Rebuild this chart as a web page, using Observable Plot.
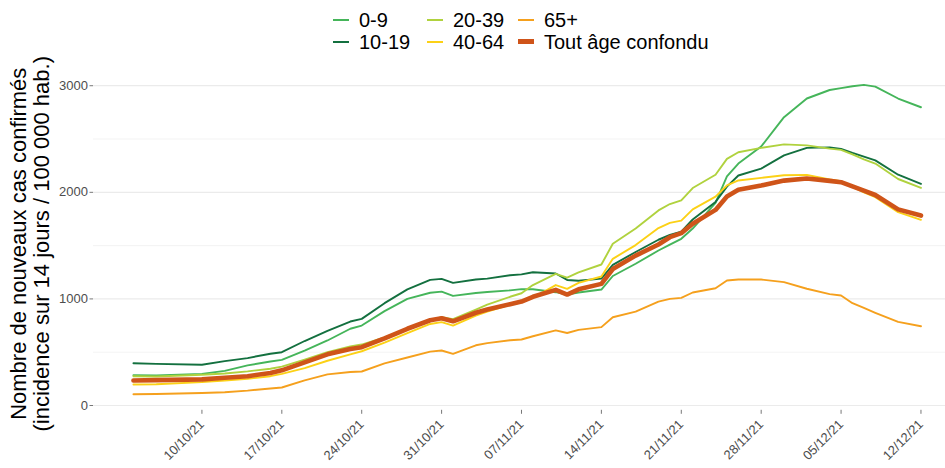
<!DOCTYPE html>
<html><head><meta charset="utf-8">
<script src="https://cdn.jsdelivr.net/npm/d3@7"></script>
<script src="https://cdn.jsdelivr.net/npm/@observablehq/plot@0.6"></script>
<style>
body{margin:0;background:#fff;font-family:"Liberation Sans",Arial,sans-serif;}
#wrap{position:relative;width:945px;height:468px;overflow:hidden;}
#wrap svg{position:absolute;left:0;top:0;}
.item{position:absolute;display:flex;align-items:center;height:20px;font-size:20px;color:#000;line-height:20px;white-space:nowrap;}
.sw{width:16px;margin-right:10px;}
</style>
</head><body><div id="wrap"></div>
<script>
const dates = ["2021-10-04","2021-10-06","2021-10-10","2021-10-12","2021-10-14","2021-10-16","2021-10-17","2021-10-19","2021-10-21","2021-10-23","2021-10-24","2021-10-26","2021-10-28","2021-10-30","2021-10-31","2021-11-01","2021-11-03","2021-11-04","2021-11-06","2021-11-07","2021-11-08","2021-11-10","2021-11-11","2021-11-12","2021-11-14","2021-11-15","2021-11-17","2021-11-19","2021-11-20","2021-11-21","2021-11-22","2021-11-24","2021-11-25","2021-11-26","2021-11-28","2021-11-30","2021-12-02","2021-12-04","2021-12-05","2021-12-06","2021-12-07","2021-12-08","2021-12-10","2021-12-12"];
const age0_9   = [285,281,297,325,376,413,428,515,610,720,750,885,1000,1058,1068,1028,1055,1065,1080,1092,1090,1063,1040,1060,1088,1215,1330,1454,1510,1564,1660,1900,2150,2270,2430,2705,2880,2960,2978,2995,3008,2992,2880,2798];
const age10_19 = [397,391,382,416,445,486,500,605,700,788,813,960,1089,1179,1188,1150,1182,1190,1222,1230,1250,1238,1178,1170,1190,1320,1440,1555,1600,1632,1745,1910,2054,2158,2222,2347,2417,2422,2408,2370,2335,2300,2165,2080];
const age20_39 = [275,272,288,300,320,345,365,430,500,555,572,640,720,800,829,810,900,947,1020,1053,1130,1235,1200,1248,1323,1517,1660,1830,1890,1925,2040,2165,2314,2376,2417,2450,2440,2410,2398,2355,2310,2270,2125,2042];
const age40_64 = [197,200,219,235,250,275,297,350,420,480,509,590,680,765,782,750,844,880,945,969,1010,1130,1094,1150,1210,1376,1505,1665,1713,1735,1840,1960,2064,2111,2136,2160,2164,2120,2105,2050,2000,1955,1814,1742];
const age65plus = [105,108,117,125,140,160,169,235,292,314,319,395,450,505,516,485,565,585,612,619,650,705,680,710,735,828,880,975,1000,1010,1060,1100,1173,1182,1182,1157,1095,1045,1032,960,915,870,785,744];
const tousAges = [235,238,245,260,275,305,330,405,480,530,547,630,720,800,819,790,870,900,950,975,1020,1085,1041,1090,1141,1280,1406,1510,1579,1617,1705,1835,1961,2023,2064,2110,2130,2107,2095,2055,2015,1975,1840,1782];

const seriesNames = ["0-9","10-19","20-39","40-64","65+","Tout âge confondu"];
const seriesValues = [age0_9, age10_19, age20_39, age40_64, age65plus, tousAges];
const seriesColors = ["#45b55a","#13703f","#b0d23e","#fcd116","#f5a01d","#cf5419"];
const yTicks = [0,1000,2000,3000];
const yMinorTicks = [500,1500,2500];
const xTickDates = ["2021-10-10","2021-10-17","2021-10-24","2021-10-31","2021-11-07","2021-11-14","2021-11-21","2021-11-28","2021-12-05","2021-12-12"];
const yTitle = "Nombre de nouveaux cas confirmés\n(incidence sur 14 jours / 100 000 hab.)";

const rows = seriesNames.flatMap((name, i) =>
  dates.map((d, j) => ({date: new Date(d), value: seriesValues[i][j], serie: name})));
const thin = rows.filter(r => r.serie !== "Tout âge confondu");
const thick = rows.filter(r => r.serie === "Tout âge confondu");

const chart = Plot.plot({
  width: 945, height: 468,
  marginLeft: 93, marginRight: 0, marginTop: 68.7, marginBottom: 58.2,
  style: {fontFamily: "'Liberation Sans', Arial, sans-serif", background: "white", overflow: "visible"},
  x: {type: "utc", domain: [new Date("2021-09-30T12:00:00Z"), new Date("2021-12-14T03:36:00Z")]},
  y: {domain: [-45, 3155]},
  color: {domain: seriesNames, range: seriesColors},
  marks: [
    Plot.ruleY(yMinorTicks, {stroke: "#eeeeee", strokeWidth: 0.7}),
    Plot.ruleY(yTicks, {stroke: "#ebebeb", strokeWidth: 1.2}),
    Plot.axisY({ticks: yTicks, tickSize: 3.5, tickPadding: 2, fontSize: 13, fill: "#4d4d4d", stroke: "#777", label: null, tickFormat: d => String(d)}),
    Plot.axisX({ticks: xTickDates.map(d => new Date(d)), tickFormat: "%d/%m/%y", tickRotate: -45, tickSize: 4, fontSize: 13, fill: "#4d4d4d", stroke: "#777", label: null}),
    Plot.line(thin, {x: "date", y: "value", z: "serie", stroke: "serie", strokeWidth: 1.9}),
    Plot.line(thick, {x: "date", y: "value", z: "serie", stroke: "serie", strokeWidth: 4.6}),
    Plot.text([yTitle], {frameAnchor: "left", text: d => d, rotate: -90, textAnchor: "middle", lineAnchor: "middle", dx: -63, dy: 4, fontSize: 22, lineHeight: 1.05, fill: "black"})
  ]
});
const wrap = document.getElementById("wrap");
wrap.appendChild(chart);

// legend (two rows, three columns)
const legendX = [333, 427, 518];
const legendY = [20, 41.7];
seriesNames.forEach((name, i) => {
  const col = Math.floor(i / 2), row = i % 2;
  const it = document.createElement("div");
  it.className = "item";
  it.style.left = legendX[col] + "px";
  it.style.top = (legendY[row] - 10) + "px";
  const sw = document.createElement("div");
  sw.className = "sw";
  sw.style.background = seriesColors[i];
  sw.style.height = (name === "Tout âge confondu" ? 4.5 : 2) + "px";
  const lb = document.createElement("span");
  lb.textContent = name;
  it.appendChild(sw); it.appendChild(lb);
  wrap.appendChild(it);
});
</script>
</body></html>
